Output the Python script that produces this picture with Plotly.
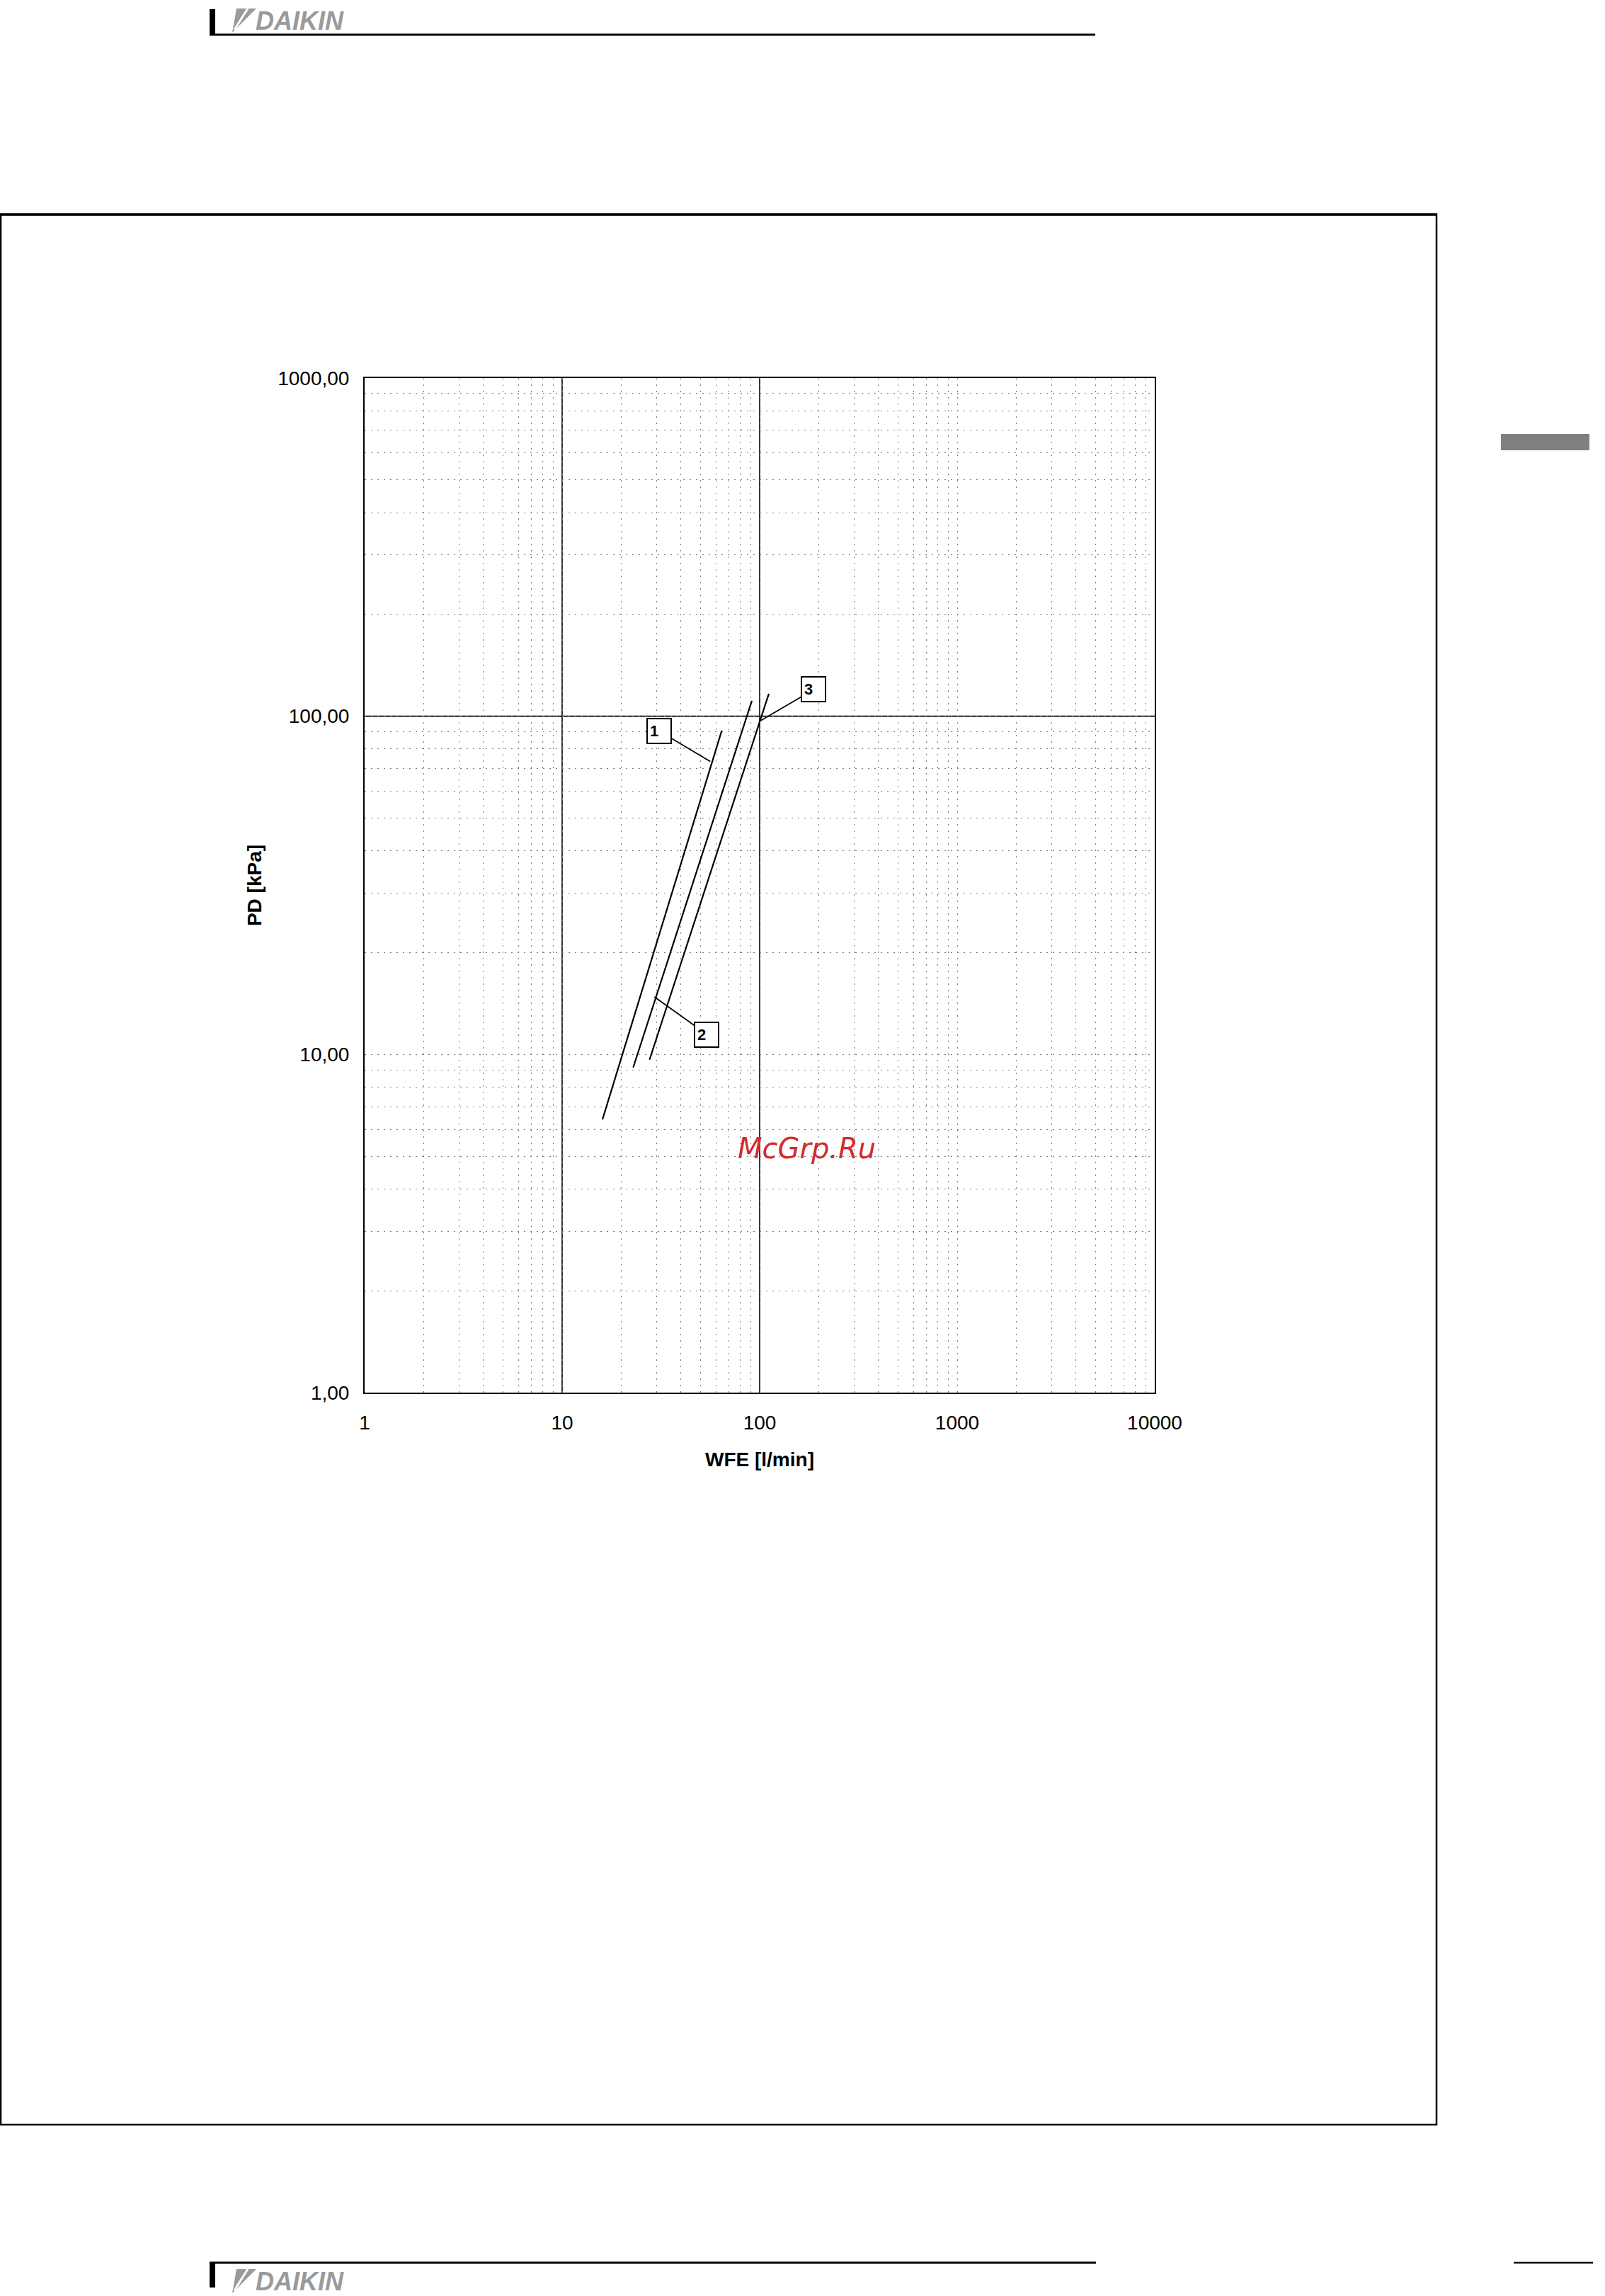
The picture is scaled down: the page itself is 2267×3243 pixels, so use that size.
import math
import plotly.graph_objects as go

# ---------------- data ----------------
wfe_curve1 = [16.0, 64.3]
pd_curve1 = [6.42, 90.7]
wfe_curve2 = [22.9, 91.3]
pd_curve2 = [9.15, 111.1]
wfe_curve3 = [27.7, 111.3]
pd_curve3 = [9.65, 116.6]

curve_labels = ["1", "2", "3"]
label_wfe = [56.2, 29.3, 101.0]
label_pd = [73.5, 14.8, 97.0]

x_tickvals = [1, 10, 100, 1000, 10000]
x_ticktext = ["1", "10", "100", "1000", "10000"]
y_tickvals = [1, 10, 100, 1000]
y_ticktext = ["1,00", "10,00", "100,00", "1000,00"]
solid_grid_x = [10, 100]
solid_grid_y = [100]

x_title = "WFE [l/min]"
y_title = "PD [kPa]"
watermark = "McGrp.Ru"
brand = "DAIKIN"

# ---------------- layout geometry ----------------
FW, FH = 2267, 3243
L, R, T, B = 515, 1631, 534, 1967
W, H = R - L, B - T


def px(xp):
    return (xp - L) / W


def py(yp):
    return (B - yp) / H


def grid_positions(majors):
    out = []
    for m in majors[:-1]:
        out += [m * k for k in range(1, 10)]
    out.append(majors[-1])
    return out


xgrid = grid_positions(x_tickvals)
ygrid = grid_positions(y_tickvals)
xtext = [x_ticktext[x_tickvals.index(v)] if v in x_tickvals else "" for v in xgrid]
ytext = [y_ticktext[y_tickvals.index(v)] if v in y_tickvals else "" for v in ygrid]

fig = go.Figure()
for xs, ys in [(wfe_curve1, pd_curve1), (wfe_curve2, pd_curve2), (wfe_curve3, pd_curve3)]:
    fig.add_trace(go.Scatter(x=xs, y=ys, mode="lines",
                             line=dict(color="black", width=2.2),
                             showlegend=False, hoverinfo="skip"))

axis_font = dict(family="Liberation Sans, Arial, sans-serif", size=28, color="black")
title_font = dict(family="Liberation Sans, Arial, sans-serif", size=28, color="black", weight="bold")
grid_common = dict(gridcolor="#7a7a7a", gridwidth=1, griddash="2px,7px",
                   showline=True, mirror=True, linecolor="black", linewidth=2,
                   ticks="", zeroline=False, tickfont=axis_font)

fig.update_xaxes(type="log", range=[0, 4], tickmode="array", tickvals=xgrid, ticktext=xtext,
                 ticklabelstandoff=16, title=dict(text=x_title, font=title_font, standoff=28),
                 **grid_common)
fig.update_yaxes(type="log", range=[0, 3], tickmode="array", tickvals=ygrid, ticktext=ytext,
                 ticklabelstandoff=14, title=dict(text=y_title, font=title_font, standoff=14),
                 **grid_common)

for v in solid_grid_x:
    fig.add_vline(x=v, line=dict(color="black", width=1.6), layer="below")
for v in solid_grid_y:
    fig.add_hline(y=v, line=dict(color="black", width=1.6), layer="below")

# curve labels with leader lines
offsets = [(-72, -43), (74, 53), (75, -44)]
for lab, xv, yv, (dx, dy) in zip(curve_labels, label_wfe, label_pd, offsets):
    fig.add_annotation(x=math.log10(xv), y=math.log10(yv), xref="x", yref="y",
                       text="<b>%s</b>" % lab, showarrow=True, arrowhead=0, arrowwidth=1.8,
                       arrowcolor="black", ax=dx, ay=dy,
                       font=dict(family="Liberation Sans, Arial, sans-serif", size=22, color="black"),
                       bordercolor="black", borderwidth=2, borderpad=3, bgcolor="white",
                       width=26, height=27, align="left", valign="middle")

# watermark
fig.add_annotation(x=px(1139), y=py(1622), xref="paper", yref="paper", showarrow=False,
                   text=watermark, xanchor="center", yanchor="middle",
                   font=dict(family="DejaVu Sans", size=40, color="#d42b2b", style="italic"))

# page decoration
shapes = []


def line(x0, y0, x1, y1, w, color="black"):
    shapes.append(dict(type="line", xref="paper", yref="paper", x0=px(x0), y0=py(y0),
                       x1=px(x1), y1=py(y1), line=dict(color=color, width=w)))


def rect(x0, y0, x1, y1, fill, lw=0, lc="black"):
    shapes.append(dict(type="rect", xref="paper", yref="paper", x0=px(x0), y0=py(y0),
                       x1=px(x1), y1=py(y1), fillcolor=fill,
                       line=dict(color=lc, width=lw)))


def poly(pts, fill):
    d = "M " + " L ".join("%f %f" % (px(a), py(b)) for a, b in pts) + " Z"
    shapes.append(dict(type="path", xref="paper", yref="paper", path=d,
                       fillcolor=fill, line=dict(width=0)))


# outer frame
rect(1, 303, 2029, 3001, "rgba(0,0,0,0)", lw=2.5)
line(0, 303, 2030, 303, 3.5)
# header
line(296, 49, 1547, 49, 3)
rect(296, 13, 304, 50, "black")
# footer
line(296, 3196, 1548, 3196, 3)
rect(296, 3196, 304, 3231, "black")
line(2138, 3196, 2250, 3196, 2.5)
# side tab
rect(2120, 613, 2245, 636, "#808080")

# logo marks
for yo in (0, 3193):
    poly([(334, 12 + yo), (362, 12 + yo), (328, 46 + yo)], "#9a9a9a")
    line(350, 12 + yo, 331, 42 + yo, 3, color="white")

for yc in (29, 3222):
    fig.add_annotation(x=px(359), y=py(yc), xref="paper", yref="paper", showarrow=False,
                       text=brand, xanchor="left", yanchor="middle",
                       font=dict(family="Liberation Sans, Arial, sans-serif", size=36,
                                 color="#9a9a9a", weight="bold", style="italic"))

for s in shapes:
    fig.add_shape(**s)

fig.update_layout(width=FW, height=FH, autosize=False,
                  margin=dict(l=L, r=FW - R, t=T, b=FH - B, pad=0),
                  paper_bgcolor="white", plot_bgcolor="white", showlegend=False)

fig.write_html("out.html", config={"displayModeBar": False},
               post_script="document.body.style.margin='0';")
